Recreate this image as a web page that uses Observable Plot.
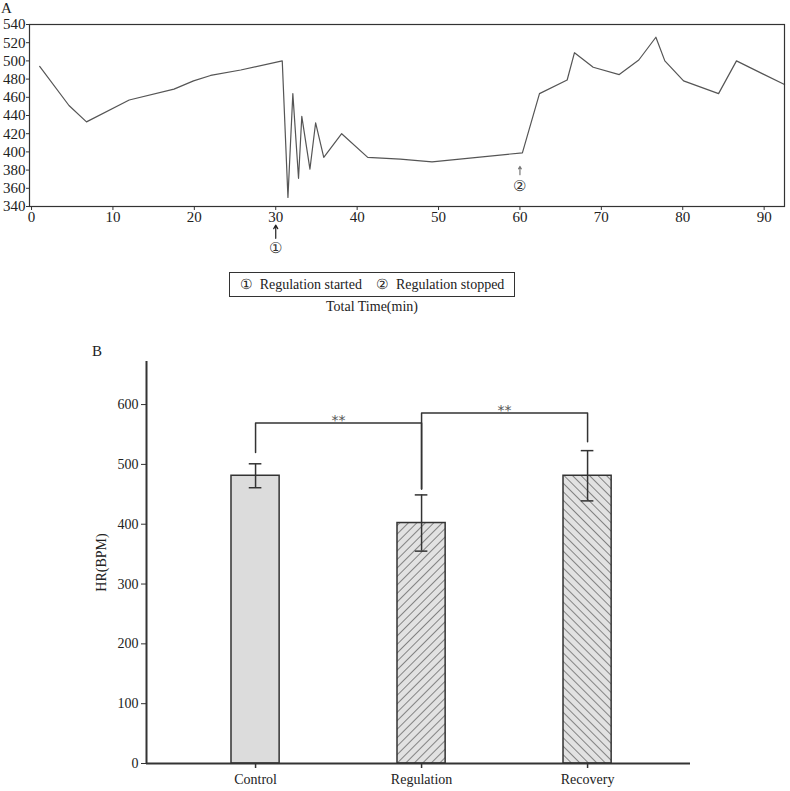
<!DOCTYPE html>
<html><head><meta charset="utf-8">
<script src="https://cdn.jsdelivr.net/npm/d3@7"></script>
<script src="https://cdn.jsdelivr.net/npm/@observablehq/plot@0.6"></script>
<style>
body{margin:0;background:#fff;}
#root{position:relative;width:790px;height:791px;font-family:"Liberation Serif","Times New Roman",serif;color:#222;overflow:hidden;}
.abs{position:absolute;white-space:nowrap;}
</style></head><body><div id="root"></div>
<script>
// ---- Panel A data: heart rate over total time ----
const times = [1.0, 4.6, 6.75, 12, 17.5, 19.9, 22, 25.7, 30.8, 31.5, 32.1, 32.8, 33.2, 34.2, 34.9, 35.9, 38.1, 41.3, 45.3, 49.2, 60.3, 62.4, 65.8, 66.7, 69.0, 72.2, 74.6, 76.7, 77.8, 80.1, 84.4, 86.6, 92.5];
const hr    = [494, 451, 433, 457, 469, 478, 484, 490, 500, 350, 464, 371, 439, 381, 432, 394, 420, 394, 392, 389, 399, 464, 479, 509, 493, 485, 501, 526, 500, 478, 464, 500, 474];
const xTicksA = [0, 10, 20, 30, 40, 50, 60, 70, 80, 90];
const yTicksA = [340, 360, 380, 400, 420, 440, 460, 480, 500, 520, 540];
const eventTimes  = [30, 60];
const eventLabels = ["①", "②"];
const eventArrowFrom = [305, 375];
const eventArrowTo   = [319.5, 384];
const eventLabelY    = [294, 362];
const legendText = "①  Regulation started    ②  Regulation stopped";
const xTitleA = "Total Time(min)";

// ---- Panel B data: mean HR by phase ----
const groups = ["Control", "Regulation", "Recovery"];
const means  = [481, 402, 481];
const errors = [20, 47, 42];
const yTicksB = [0, 100, 200, 300, 400, 500, 600];
const yLabelB = "HR(BPM)";
const sigFrom  = [0, 1];
const sigTo    = [1, 2];
const sigLevel = [569, 586];
const sigFromLeg = [520, 459];
const sigToLeg   = [459, 538];
const sigLabel = ["**", "**"];

const root = document.getElementById("root");
const FONT = "Liberation Serif, Times New Roman, serif";

// ---------- Panel A ----------
const lineData = times.map((t, i) => ({t, v: hr[i]}));
const events = eventTimes.map((t, i) => ({t, label: eventLabels[i], y1: eventArrowFrom[i], y2: eventArrowTo[i], ly: eventLabelY[i]}));

const plotA = Plot.plot({
  width: 790, height: 262,
  marginLeft: 29, marginRight: 6, marginTop: 24, marginBottom: 56,
  style: {fontFamily: FONT, fontSize: "15px", color: "#222", background: "transparent", overflow: "visible"},
  x: {domain: [-0.25, 92.5]},
  y: {domain: [340, 540]},
  marks: [
    Plot.line(lineData, {x: "t", y: "v", stroke: "#555", strokeWidth: 1.2}),
    Plot.frame({stroke: "#333", strokeWidth: 1.2}),
    Plot.axisX({ticks: xTicksA, tickSize: 4, tickPadding: 1, label: null, stroke: "#333", fontSize: 15}),
    Plot.axisY({ticks: yTicksA, tickSize: 3, tickPadding: 1, label: null, stroke: "#333", fontSize: 15}),
    Plot.arrow(events, {x1: "t", x2: "t", y1: "y1", y2: "y2", stroke: (d, i) => i === 0 ? "#222" : "#777", headLength: 5, strokeWidth: 1.2}),
    Plot.text(events, {x: "t", y: "ly", text: "label", fontSize: 15, fill: "#333"})
  ]
});
plotA.style.position = "absolute"; plotA.style.left = "0px"; plotA.style.top = "0px";
root.appendChild(plotA);

function addText(txt, left, top, size, extra) {
  const d = document.createElement("div");
  d.className = "abs";
  d.textContent = txt;
  d.style.left = left + "px"; d.style.top = top + "px"; d.style.fontSize = size + "px";
  if (extra) Object.assign(d.style, extra);
  root.appendChild(d);
  return d;
}
addText("A", 1, 0, 15);
addText(legendText, 229, 272, 14, {width: "284px", height: "23px", border: "1px solid #333", textAlign: "center", lineHeight: "23px", whiteSpace: "pre"});
addText(xTitleA, 229, 299, 14, {width: "286px", textAlign: "center"});

// ---------- Panel B ----------
const bars = groups.map((g, i) => ({g, i, mean: means[i], err: errors[i]}));
const barHalf = 0.145, capHalf = 0.038;
const barFill = ["#dcdcdc", "url(#hatchUp)", "url(#hatchDown)"];
const brackets = sigFrom.map((f, k) => [
  {x: f, y: sigFromLeg[k]}, {x: f, y: sigLevel[k]}, {x: sigTo[k], y: sigLevel[k]}, {x: sigTo[k], y: sigToLeg[k]}
]);
const sigText = sigFrom.map((f, k) => ({x: (f + sigTo[k]) / 2, y: sigLevel[k], label: sigLabel[k]}));
const xDomainB = [-0.657, 2.62];

const plotB = Plot.plot({
  width: 790, height: 446,
  marginLeft: 146, marginRight: 100, marginTop: 16, marginBottom: 28,
  style: {fontFamily: FONT, fontSize: "14px", color: "#222", background: "transparent", overflow: "visible"},
  x: {domain: xDomainB},
  y: {domain: [0, 672]},
  marks: [
    ...bars.map((b, i) => Plot.rectY([b], {x1: d => d.i - barHalf, x2: d => d.i + barHalf, y: "mean", fill: barFill[i], stroke: "#333", strokeWidth: 1.5})),
    Plot.ruleX(bars, {x: "i", y1: d => d.mean - d.err, y2: d => d.mean + d.err, stroke: "#333", strokeWidth: 1.5}),
    Plot.ruleY(bars, {y: d => d.mean + d.err, x1: d => d.i - capHalf, x2: d => d.i + capHalf, stroke: "#333", strokeWidth: 1.5}),
    Plot.ruleY(bars, {y: d => d.mean - d.err, x1: d => d.i - capHalf, x2: d => d.i + capHalf, stroke: "#333", strokeWidth: 1.5}),
    ...brackets.map(br => Plot.line(br, {x: "x", y: "y", stroke: "#333", strokeWidth: 1.5})),
    Plot.text(sigText, {x: "x", y: "y", text: "label", lineAnchor: "bottom", dy: 2, fontSize: 14, fill: "#555", fontFamily: "DejaVu Sans"}),
    Plot.ruleY([0], {stroke: "#333", strokeWidth: 2}),
    Plot.ruleX([xDomainB[0]], {stroke: "#333", strokeWidth: 2}),
    Plot.axisY({ticks: yTicksB, tickSize: 5, tickPadding: 3, label: yLabelB, labelArrow: "none", labelAnchor: "center", labelOffset: 50, stroke: "#333"}),
    Plot.axisX({ticks: groups.map((g, i) => i), tickFormat: i => groups[i], tickSize: 5, tickPadding: 6, label: null, stroke: "#333", strokeWidth: 1.5})
  ]
});
plotB.style.position = "absolute"; plotB.style.left = "0px"; plotB.style.top = "345px";
const defs = d3.select(plotB).insert("defs", ":first-child");
[["hatchUp", 45], ["hatchDown", -45]].forEach(([id, ang]) => {
  const p = defs.append("pattern").attr("id", id).attr("patternUnits", "userSpaceOnUse")
    .attr("width", 6).attr("height", 6).attr("patternTransform", `rotate(${ang})`);
  p.append("rect").attr("width", 6).attr("height", 6).attr("fill", "#e2e2e2");
  p.append("line").attr("x1", 0).attr("y1", 0).attr("x2", 0).attr("y2", 6).attr("stroke", "#333").attr("stroke-width", 1.1);
});
root.appendChild(plotB);
addText("B", 92, 343, 15);
</script>
</body></html>
